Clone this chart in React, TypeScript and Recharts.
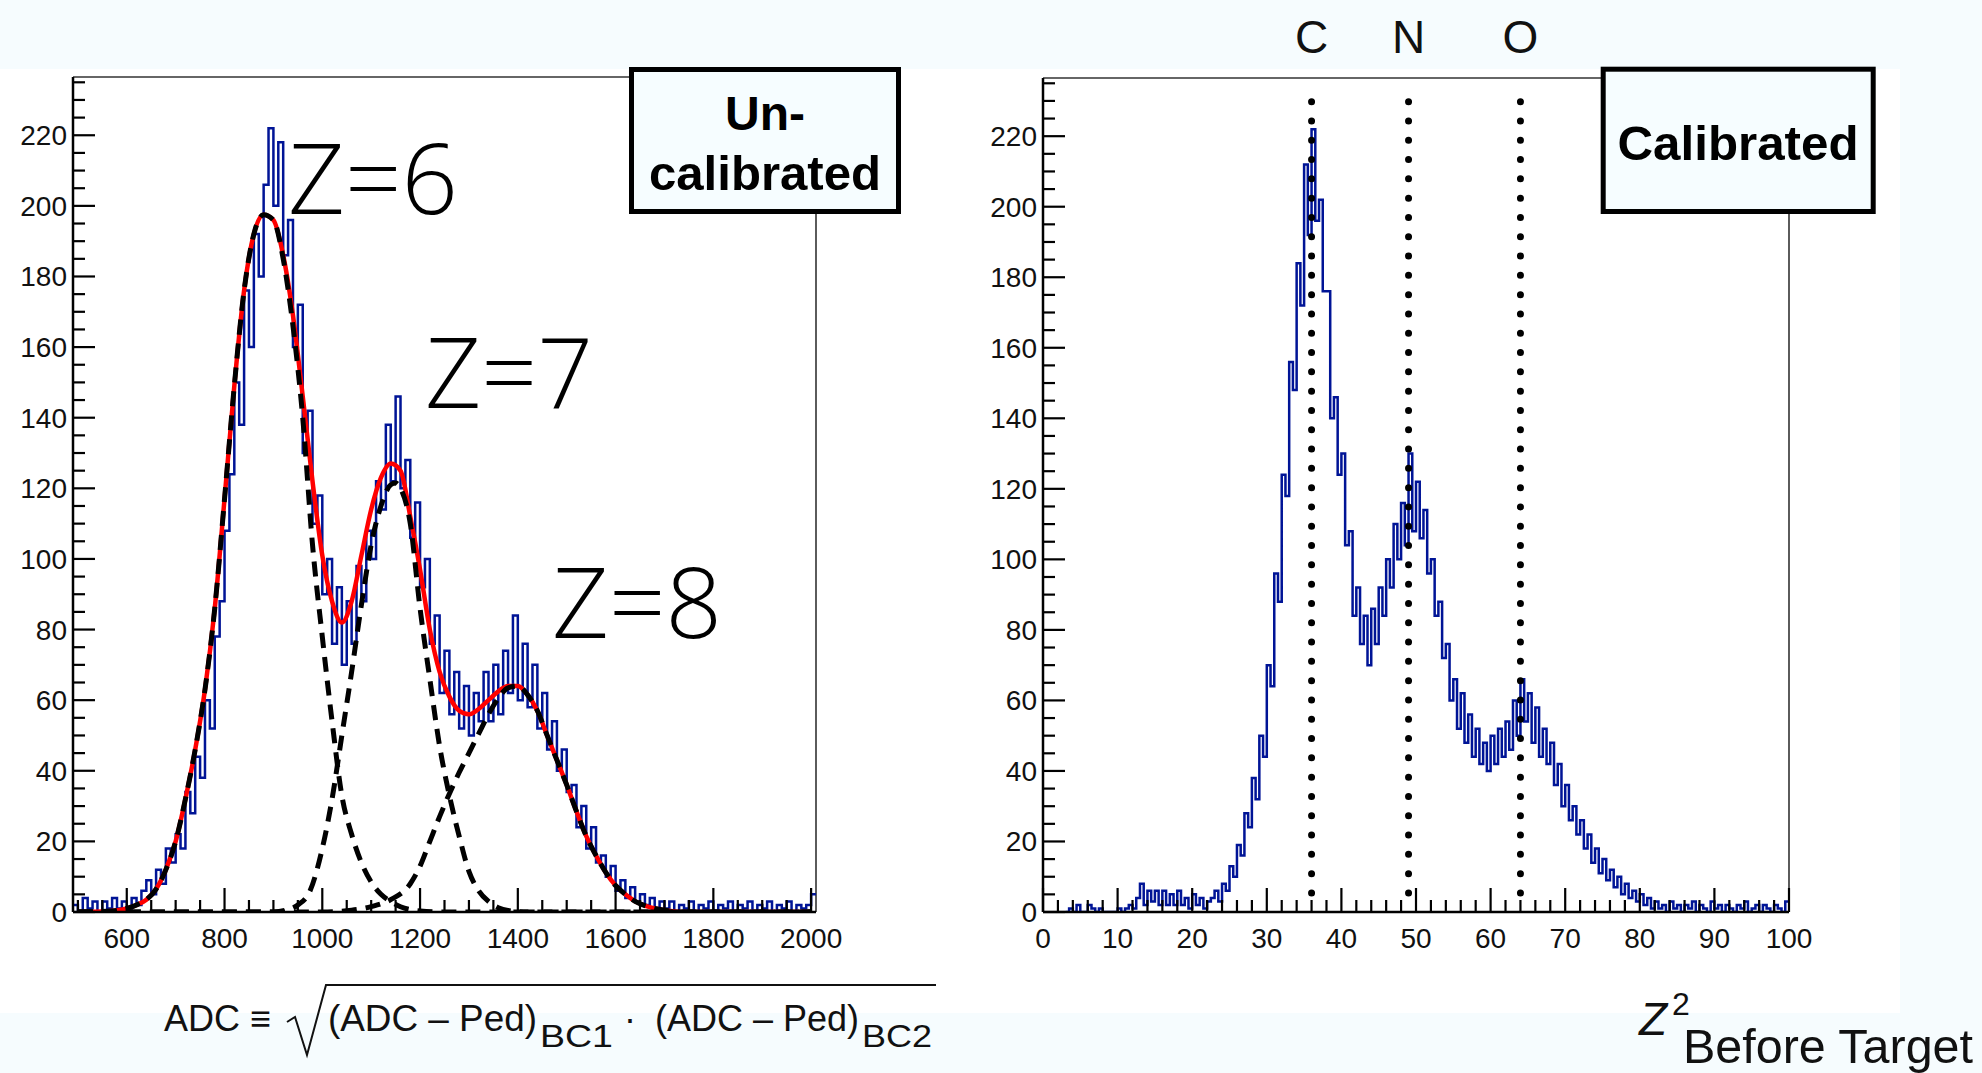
import React from 'react';
import { ComposedChart, Line, XAxis, YAxis, ReferenceLine } from 'recharts';

const FONT = '"Liberation Sans", Arial, Helvetica, sans-serif';
const LIGHT_FONT = '"Open Sans", "Liberation Sans", sans-serif';
const BLUE = '#001496';

// ---------- left panel: un-calibrated ADC ----------
const adcBinStart = 490;
const adcBinWidth = 10;
const adcCounts = [
  2, 0, 4, 1, 3, 0, 3, 1, 4, 1,
  3, 1, 4, 2, 6, 9, 5, 12, 8, 18,
  14, 22, 18, 34, 28, 44, 38, 60, 52, 78,
  88, 108, 124, 150, 138, 176, 160, 192, 180, 206,
  222, 200, 218, 186, 196, 160, 172, 130, 142, 110,
  118, 90, 100, 76, 92, 70, 88, 76, 98, 88,
  108, 100, 122, 114, 138, 122, 146, 120, 128, 106,
  116, 92, 100, 76, 84, 62, 74, 56, 68, 52,
  64, 50, 62, 54, 68, 54, 70, 56, 74, 62,
  84, 60, 76, 58, 70, 52, 62, 46, 54, 40,
  46, 34, 36, 24, 30, 18, 24, 14, 16, 10,
  13, 6, 9, 4, 7, 3, 5, 2, 4, 1,
  3, 1, 3, 0, 2, 1, 3, 0, 2, 1,
  3, 0, 2, 1, 3, 0, 2, 1, 3, 0,
  2, 1, 3, 0, 2, 1, 3, 0, 2, 1,
  2, 5,
];

// total fit (red)
const totalFitAdc = [
  500, 560, 600, 620, 640, 660, 680, 700, 720, 740,
  760, 780, 800, 820, 840, 860, 880, 900, 920, 940,
  960, 980, 1000, 1020, 1040, 1060, 1080, 1100, 1120, 1140,
  1160, 1180, 1200, 1220, 1240, 1260, 1280, 1300, 1320, 1340,
  1360, 1380, 1400, 1420, 1440, 1460, 1480, 1500, 1520, 1540,
  1560, 1580, 1600, 1620, 1640, 1660, 1680, 1700, 1740, 2000,
];
const totalFit = [
  0, 0.2, 1, 2, 3.5, 6.5, 12, 20, 32, 46,
  63, 86, 117, 149, 176, 192, 197.5, 196, 186, 169,
  146, 122, 101, 88, 82, 88, 101, 114, 123, 127,
  125, 112, 97, 80, 68, 61, 57, 56, 57.5, 60,
  62.5, 64, 64, 61.5, 57, 50, 43, 36, 28.5, 21.5,
  16, 11.2, 7.5, 5, 3, 1.8, 1, 0.5, 0, 0,
];

// single-peak components (black dashed)
const carbonAdc = [
  500, 560, 600, 620, 640, 660, 680, 700, 720, 740,
  760, 780, 800, 820, 840, 860, 880, 900, 920, 940,
  960, 980, 1000, 1020, 1040, 1060, 1080, 1100, 1120, 1140,
  1160, 1200, 1240, 2000,
];
const carbonFit = [
  0, 0.2, 1, 2, 3.5, 6.5, 12, 20, 32, 46,
  63, 86, 117, 149, 176, 192, 197.5, 196, 185, 166,
  140, 104, 78, 54, 33, 22, 14, 8.5, 5, 3,
  1.5, 0.3, 0, 0,
];
const nitrogenAdc = [
  500, 900, 925, 950, 975, 1000, 1020, 1040, 1060, 1080,
  1100, 1120, 1140, 1150, 1160, 1180, 1200, 1220, 1240, 1260,
  1280, 1300, 1320, 1340, 1360, 1380, 1420, 2000,
];
const nitrogenFit = [
  0, 0, 0.5, 2, 6, 18, 32, 50, 68, 87,
  104, 115, 121, 121.5, 120, 110, 86, 66, 47, 33,
  21.5, 11.5, 6, 3, 1.2, 0.4, 0, 0,
];
const oxygenAdc = [
  500, 1000, 1060, 1100, 1140, 1180, 1200, 1220, 1240, 1260,
  1280, 1300, 1320, 1340, 1360, 1380, 1400, 1420, 1440, 1460,
  1480, 1500, 1520, 1540, 1560, 1580, 1600, 1620, 1640, 1660,
  1680, 1700, 1740, 2000,
];
const oxygenFit = [
  0, 0, 0.5, 1.5, 3.5, 8, 13, 20, 27, 33.5,
  39.5, 45, 50.5, 56, 60.5, 63.5, 64, 61.5, 57, 50,
  43, 36, 28.5, 21.5, 16, 11.2, 7.5, 5, 3, 1.8,
  1, 0.5, 0, 0,
];

// ---------- right panel: calibrated Z^2 ----------
const z2BinStart = 3;
const z2BinWidth = 0.5;
const z2Counts = [
  0, 1, 0, 2, 0, 0, 2, 1, 0, 1,
  0, 0, 0, 0, 1, 0, 1, 2, 1, 4,
  8, 2, 6, 3, 6, 2, 6, 2, 5, 2,
  6, 2, 4, 1, 5, 2, 4, 1, 3, 4,
  6, 3, 8, 6, 13, 10, 19, 16, 28, 24,
  38, 32, 50, 44, 70, 64, 96, 88, 124, 118,
  156, 148, 184, 172, 212, 192, 222, 196, 202, 176,
  176, 140, 146, 124, 130, 104, 108, 84, 92, 76,
  84, 70, 86, 76, 92, 84, 100, 92, 110, 100,
  116, 104, 130, 108, 122, 106, 114, 96, 100, 84,
  88, 72, 76, 60, 66, 52, 62, 48, 56, 44,
  52, 42, 48, 40, 50, 42, 52, 44, 54, 46,
  60, 50, 66, 54, 62, 48, 58, 44, 52, 42,
  48, 36, 42, 30, 36, 26, 30, 22, 26, 18,
  22, 14, 18, 11, 15, 9, 12, 7, 10, 5,
  8, 4, 6, 3, 5, 2, 4, 1, 3, 1,
  2, 0, 3, 1, 2, 0, 2, 1, 3, 0,
  2, 1, 0, 3, 1, 2, 0, 2, 1, 0,
  2, 1, 3, 0, 1, 2, 0, 2, 1, 0,
  2, 1, 0, 3,
];
const elementNames = ['C', 'N', 'O'];
const elementZ2 = [36, 49, 64];

const peakLabels = ['Z=6', 'Z=7', 'Z=8'];

// ---------- helpers ----------
const toBins = (start: number, width: number, counts: number[]) => {
  const pts = counts.map((c, i) => ({ x: start + i * width, y: c }));
  pts.push({ x: start + counts.length * width, y: counts[counts.length - 1] });
  return pts;
};
const toCurve = (xs: number[], ys: number[]) => xs.map((x, i) => ({ x, y: ys[i] }));
const range = (a: number, b: number, step: number) => {
  const out: number[] = [];
  for (let v = a; v <= b + 1e-9; v += step) out.push(Math.round(v * 100) / 100);
  return out;
};

const yTicks = range(0, 235, 5);
const adcTicks = range(500, 2000, 50);
const z2Ticks = range(0, 100, 2);

const renderYTick = (props: any) => {
  const { x, y, payload } = props;
  const major = payload.value % 20 === 0;
  return (
    <g>
      <line x1={x} y1={y} x2={x + (major ? 22 : 12)} y2={y} stroke="#000" strokeWidth={2.2} />
      {major && (
        <text x={x - 6} y={y + 10} textAnchor="end" fontSize={28} fontFamily={FONT} fill="#111">
          {payload.value}
        </text>
      )}
    </g>
  );
};

const makeXTick = (majorEvery: number) => (props: any) => {
  const { x, y, payload } = props;
  const major = payload.value % majorEvery === 0;
  return (
    <g>
      <line x1={x} y1={y} x2={x} y2={y - (major ? 24 : 12)} stroke="#000" strokeWidth={2.2} />
      {major && (
        <text x={x} y={y + 36} textAnchor="middle" fontSize={28} fontFamily={FONT} fill="#111">
          {payload.value}
        </text>
      )}
    </g>
  );
};

const axisLine = { stroke: '#000', strokeWidth: 2.5 };

const LeftPanel = () => {
  const hist = toBins(adcBinStart, adcBinWidth, adcCounts);
  const comps = [
    toCurve(carbonAdc, carbonFit),
    toCurve(nitrogenAdc, nitrogenFit),
    toCurve(oxygenAdc, oxygenFit),
  ];
  return (
    <ComposedChart width={900} height={1000} margin={{ top: 77, right: 84, bottom: 58, left: 13 }}>
      <XAxis
        type="number"
        dataKey="x"
        domain={[490, 2010]}
        ticks={adcTicks}
        interval={0}
        tick={makeXTick(200)}
        tickLine={false}
        tickSize={0}
        tickMargin={0}
        axisLine={axisLine}
        height={30}
        allowDataOverflow
      />
      <YAxis
        type="number"
        domain={[0, 236.5]}
        ticks={yTicks}
        interval={0}
        tick={renderYTick}
        tickLine={false}
        tickSize={0}
        tickMargin={0}
        axisLine={axisLine}
        width={60}
        allowDataOverflow
      />
      <ReferenceLine y={236.5} stroke="#333" strokeWidth={1.6} />
      <ReferenceLine x={2010} stroke="#333" strokeWidth={1.6} />
      <Line data={hist} dataKey="y" type="stepAfter" stroke={BLUE} strokeWidth={2.5} dot={false} isAnimationActive={false} />
      <Line data={toCurve(totalFitAdc, totalFit)} dataKey="y" type="monotone" stroke="#ff0000" strokeWidth={4.5} dot={false} isAnimationActive={false} />
      {comps.map((c, i) => (
        <Line
          key={i}
          data={c}
          dataKey="y"
          type="monotone"
          stroke="#000"
          strokeWidth={5}
          strokeDasharray="15 9"
          dot={false}
          isAnimationActive={false}
        />
      ))}
    </ComposedChart>
  );
};

const RightPanel = () => {
  const hist = toBins(z2BinStart, z2BinWidth, z2Counts);
  return (
    <ComposedChart width={900} height={1000} margin={{ top: 78, right: 71, bottom: 58, left: 23 }}>
      <XAxis
        type="number"
        dataKey="x"
        domain={[0, 100]}
        ticks={z2Ticks}
        interval={0}
        tick={makeXTick(10)}
        tickLine={false}
        tickSize={0}
        tickMargin={0}
        axisLine={axisLine}
        height={30}
        allowDataOverflow
      />
      <YAxis
        type="number"
        domain={[0, 236.5]}
        ticks={yTicks}
        interval={0}
        tick={renderYTick}
        tickLine={false}
        tickSize={0}
        tickMargin={0}
        axisLine={axisLine}
        width={60}
        allowDataOverflow
      />
      <ReferenceLine y={236.5} stroke="#333" strokeWidth={1.6} />
      <ReferenceLine x={100} stroke="#333" strokeWidth={1.6} />
      <Line data={hist} dataKey="y" type="stepAfter" stroke={BLUE} strokeWidth={2.5} dot={false} isAnimationActive={false} />
      {elementZ2.map((z, i) => (
        <ReferenceLine
          key={elementNames[i]}
          segment={[{ x: z, y: 5.4 }, { x: z, y: 232.4 }]}
          stroke="#000"
          strokeWidth={7}
          strokeDasharray="0 19.3"
          strokeLinecap="round"
          label={{ value: elementNames[i], position: 'top', offset: 39, fontSize: 46, fill: '#111', fontFamily: FONT }}
        />
      ))}
    </ComposedChart>
  );
};

const Annotations = () => (
  <svg width={1982} height={1073} style={{ position: 'absolute', left: 0, top: 0, pointerEvents: 'none' }}>
    {/* peak labels */}
    <g fontFamily={LIGHT_FONT} fontWeight={300} fontSize={98} fill="#000">
      <text x={288} y={214} textLength={170} lengthAdjust="spacingAndGlyphs">{peakLabels[0]}</text>
      <text x={425} y={408} textLength={168} lengthAdjust="spacingAndGlyphs">{peakLabels[1]}</text>
      <text x={552} y={638} textLength={170} lengthAdjust="spacingAndGlyphs">{peakLabels[2]}</text>
    </g>

    {/* title boxes */}
    <rect x={631.5} y={69.5} width={267} height={142} fill="#f6fdff" stroke="#000" strokeWidth={5} />
    <g fontFamily={FONT} fontWeight="bold" fill="#000" textAnchor="middle">
      <text x={765} y={130} fontSize={48}>Un-</text>
      <text x={765} y={190} fontSize={48} textLength={232} lengthAdjust="spacingAndGlyphs">calibrated</text>
    </g>
    <rect x={1603.2} y={69.2} width={270} height={142.3} fill="#f6fdff" stroke="#000" strokeWidth={5} />
    <text x={1738} y={160} fontSize={49} fontFamily={FONT} fontWeight="bold" textAnchor="middle" textLength={241} lengthAdjust="spacingAndGlyphs">
      Calibrated
    </text>

    {/* x title, left */}
    <g fontFamily={FONT} fill="#111">
      <text x={164} y={1031} fontSize={36} textLength={107} lengthAdjust="spacingAndGlyphs">ADC ≡</text>
      <path d="M 287 1022 L 295 1017 L 307 1055 L 326 985 L 936 985" fill="none" stroke="#111" strokeWidth={2} />
      <text x={328} y={1031} fontSize={36} textLength={209} lengthAdjust="spacingAndGlyphs">(ADC – Ped)</text>
      <text x={540} y={1047} fontSize={31} textLength={73} lengthAdjust="spacingAndGlyphs">BC1</text>
      <text x={624} y={1031} fontSize={36}>·</text>
      <text x={655} y={1031} fontSize={36} textLength={204} lengthAdjust="spacingAndGlyphs">(ADC – Ped)</text>
      <text x={862} y={1047} fontSize={31} textLength={70} lengthAdjust="spacingAndGlyphs">BC2</text>
    </g>

    {/* x title, right */}
    <g fontFamily={FONT} fill="#111">
      <text x={1639} y={1035} fontSize={46} fontStyle="italic">Z</text>
      <text x={1672} y={1015} fontSize={32}>2</text>
      <text x={1683} y={1063} fontSize={48} textLength={290} lengthAdjust="spacingAndGlyphs">Before Target</text>
    </g>
  </svg>
);

export default function App() {
  return (
    <div style={{ position: 'absolute', left: 0, top: 0, width: 1982, height: 1073, background: '#f6fcfe', overflow: 'hidden' }}>
      <div style={{ position: 'absolute', left: 0, top: 69, width: 1900, height: 944, background: '#ffffff' }} />
      <div style={{ position: 'absolute', left: 0, top: 0 }}>
        <LeftPanel />
      </div>
      <div style={{ position: 'absolute', left: 960, top: 0 }}>
        <RightPanel />
      </div>
      <Annotations />
    </div>
  );
}
